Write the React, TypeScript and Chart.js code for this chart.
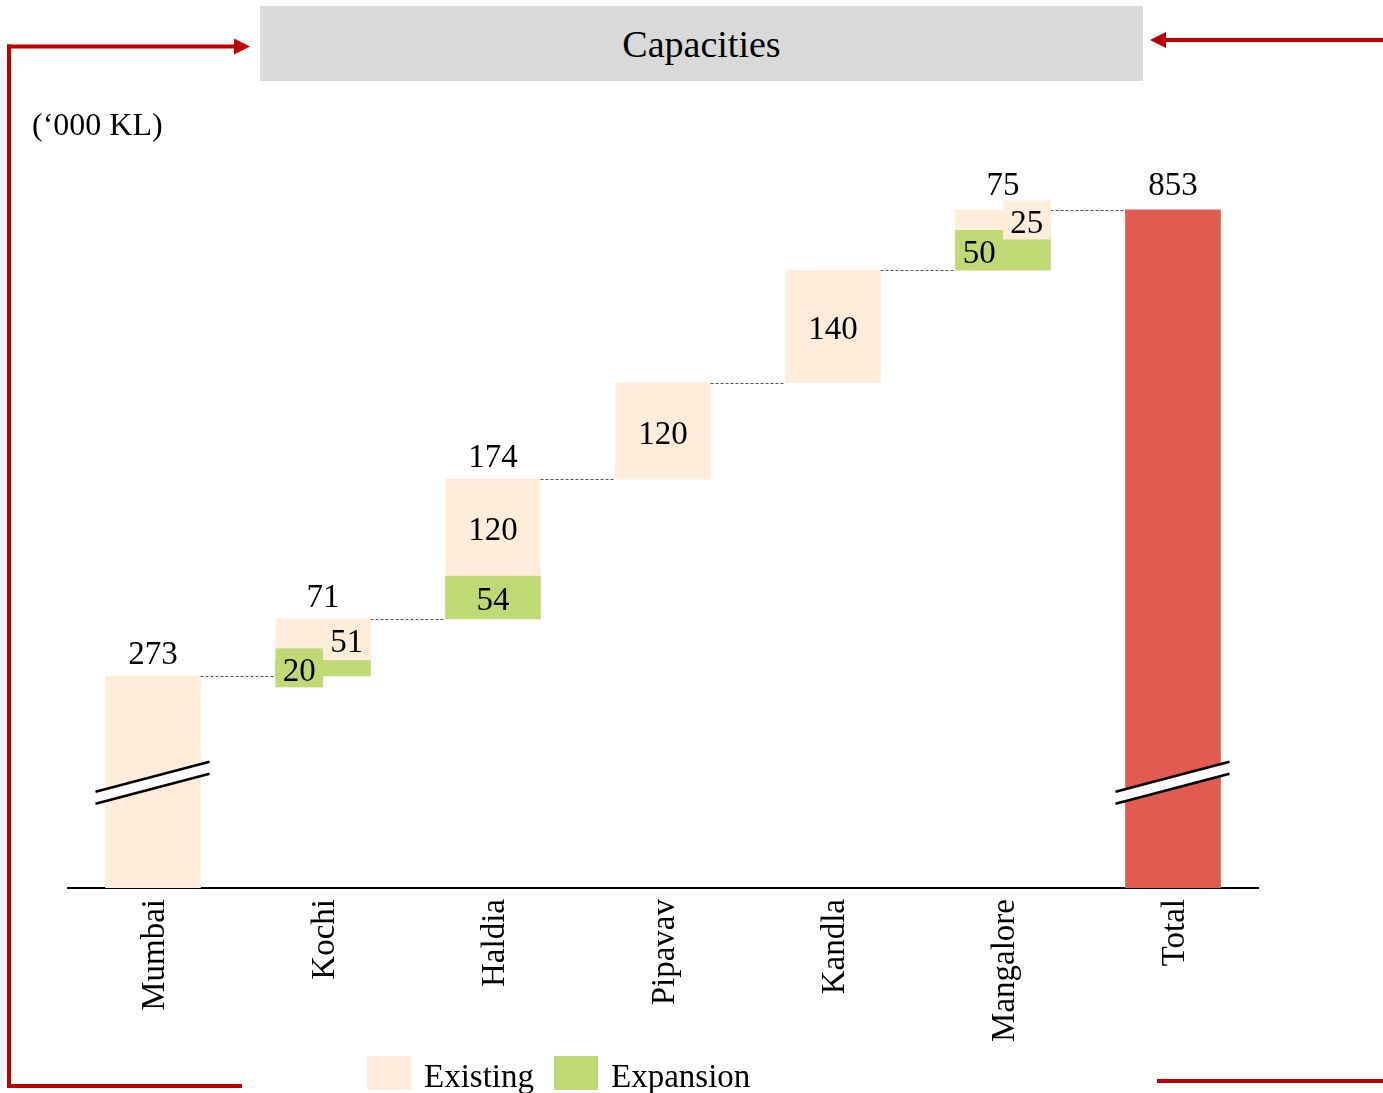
import React, { useEffect, useRef } from "react";
import { Chart, registerables } from "chart.js";
Chart.register(...registerables);

const categories = ["Mumbai", "Kochi", "Haldia", "Pipavav", "Kandla", "Mangalore", "Total"];
const existing = [273, 51, 120, 120, 140, 25, 0];
const expansion = [0, 20, 54, 0, 0, 50, 0];
const totalValue = 853;
const topLabels = ["273", "71", "174", "", "", "75", "853"];
const existingLabelSide = ["none", "right", "center", "center", "center", "right", "none"];
const expansionLabelSide = ["none", "left", "center", "none", "none", "left", "none"];
const breakValue = 140;

const COL_EXIST = "#FDEDDA";
const COL_EXP = "#BFD975";
const COL_TOTAL = "#E15B50";
const FONT = "'Liberation Serif', 'Times New Roman', serif";

export default function App() {
  const ref = useRef<HTMLCanvasElement | null>(null);

  useEffect(() => {
    document.body.style.margin = "0";
    document.body.style.overflow = "hidden";
    const n = categories.length;
    const starts: number[] = [];
    let acc = 0;
    for (let i = 0; i < n - 1; i++) {
      starts.push(acc);
      acc += existing[i] + expansion[i];
    }
    starts.push(0);
    const expData = categories.map((_, i) =>
      i < n - 1 && expansion[i] > 0 ? [starts[i], starts[i] + expansion[i]] : null
    );
    const exData = categories.map((_, i) =>
      i < n - 1 && existing[i] > 0
        ? [starts[i] + expansion[i], starts[i] + expansion[i] + existing[i]]
        : null
    );
    const totData = categories.map((_, i) => (i === n - 1 ? [0, totalValue] : null));

    const overlay = {
      id: "overlay",
      afterDatasetsDraw(chart: any) {
        const ctx = chart.ctx;
        const ys = chart.scales.y;
        const bars = categories.map((_, i) => {
          const m = i === n - 1 ? chart.getDatasetMeta(2) : chart.getDatasetMeta(exData[i] ? 0 : 1);
          return m.data[i];
        });
        const ends = categories.map((_, i) =>
          i === n - 1 ? totalValue : starts[i] + existing[i] + expansion[i]
        );
        ctx.save();
        // connectors
        ctx.strokeStyle = "#555";
        ctx.lineWidth = 1;
        ctx.setLineDash([3, 2]);
        for (let i = 0; i < n - 1; i++) {
          const a = bars[i];
          const b = bars[i + 1];
          const yy = Math.round(ys.getPixelForValue(ends[i])) + 0.5;
          ctx.beginPath();
          ctx.moveTo(a.x + a.width / 2, yy);
          ctx.lineTo(b.x - b.width / 2, yy);
          ctx.stroke();
        }
        ctx.setLineDash([]);
        // breaks
        [0, n - 1].forEach((i) => {
          const b = bars[i];
          const l = b.x - b.width / 2 - 10;
          const r = b.x + b.width / 2 + 9;
          const mid = ys.getPixelForValue(breakValue);
          ctx.fillStyle = "#fff";
          ctx.beginPath();
          ctx.moveTo(l, mid + 9);
          ctx.lineTo(r, mid - 21);
          ctx.lineTo(r, mid - 9);
          ctx.lineTo(l, mid + 21);
          ctx.closePath();
          ctx.fill();
          ctx.strokeStyle = "#000";
          ctx.lineWidth = 2.5;
          ctx.beginPath();
          ctx.moveTo(l, mid + 9);
          ctx.lineTo(r, mid - 21);
          ctx.moveTo(l, mid + 21);
          ctx.lineTo(r, mid - 9);
          ctx.stroke();
        });
        // inner labels
        ctx.font = `33px ${FONT}`;
        ctx.textAlign = "center";
        ctx.textBaseline = "alphabetic";
        const drawSeg = (i: number, lo: number, hi: number, side: string, val: number, col: string) => {
          if (side === "none") return;
          const b = bars[i];
          const yc = (ys.getPixelForValue(lo) + ys.getPixelForValue(hi)) / 2;
          let cx = b.x;
          if (side !== "center") {
            const segH = Math.abs(ys.getPixelForValue(lo) - ys.getPixelForValue(hi));
            const h = Math.max(segH, 39);
            const x0 = side === "left" ? b.x - b.width / 2 : b.x;
            const w = b.width / 2;
            ctx.fillStyle = col;
            ctx.fillRect(x0, yc - h / 2, w, h);
            cx = x0 + w / 2;
          }
          ctx.fillStyle = "#000";
          ctx.fillText(String(val), cx, yc + 13);
        };
        for (let i = 0; i < n - 1; i++) {
          if (expansion[i] > 0)
            drawSeg(i, starts[i], starts[i] + expansion[i], expansionLabelSide[i], expansion[i], COL_EXP);
        }
        for (let i = 0; i < n - 1; i++) {
          if (existing[i] > 0)
            drawSeg(
              i,
              starts[i] + expansion[i],
              starts[i] + expansion[i] + existing[i],
              existingLabelSide[i],
              existing[i],
              COL_EXIST
            );
        }
        // top labels
        ctx.fillStyle = "#000";
        for (let i = 0; i < n; i++) {
          if (!topLabels[i]) continue;
          const yTop = ys.getPixelForValue(ends[i]);
          ctx.fillText(topLabels[i], bars[i].x, yTop - (i >= n - 2 ? 15 : 12));
        }
        ctx.restore();
      },
    };

    const chart = new Chart(ref.current as HTMLCanvasElement, {
      type: "bar",
      data: {
        labels: categories,
        datasets: [
          { label: "Existing", data: exData as any, backgroundColor: COL_EXIST, barThickness: 95 },
          { label: "Expansion", data: expData as any, backgroundColor: COL_EXP, barThickness: 95 },
          { label: "Total", data: totData as any, backgroundColor: COL_TOTAL, barThickness: 95 },
        ],
      },
      options: {
        responsive: false,
        animation: false,
        layout: { padding: { left: 68, right: 125, top: 150, bottom: 0 } },
        plugins: { legend: { display: false }, tooltip: { enabled: false } },
        scales: {
          x: {
            stacked: true,
            grid: { display: false, drawTicks: false },
            border: { display: true, color: "#000", width: 2 },
            ticks: {
              autoSkip: false,
              maxRotation: 90,
              minRotation: 90,
              padding: 11,
              labelOffset: 2,
              color: "#000",
              font: { family: FONT, size: 33 },
            },
            afterFit: (s: any) => {
              s.height = 205;
            },
          },
          y: {
            display: false,
            stacked: false,
            min: 9,
            max: 927.6,
          },
        },
      },
      plugins: [overlay],
    });
    return () => chart.destroy();
  }, []);

  const abs = (o: any) => ({ position: "absolute" as const, ...o });

  return (
    <div style={abs({ left: 0, top: 0, width: 1383, height: 1093, overflow: "hidden", background: "#fff", fontFamily: FONT })}>
      <canvas ref={ref} width={1383} height={1093} style={abs({ left: 0, top: 0 })} />
      <div
        style={abs({
          left: 260,
          top: 6,
          width: 883,
          height: 75,
          background: "#D9D9D9",
          display: "flex",
          alignItems: "center",
          justifyContent: "center",
          fontSize: 38,
          color: "#000",
        })}
      >
        Capacities
      </div>
      <div style={abs({ left: 32, top: 108, fontSize: 32, lineHeight: "33px", color: "#000", whiteSpace: "nowrap" })}>
        (‘000 KL)
      </div>
      <svg width={1383} height={1093} style={abs({ left: 0, top: 0, pointerEvents: "none" })}>
        <g stroke="#C00000" strokeWidth={4} fill="none">
          <line x1={9} y1={44.5} x2={9} y2={1088} />
          <line x1={7} y1={46.5} x2={237} y2={46.5} />
          <line x1={7} y1={1086} x2={242} y2={1086} />
          <line x1={1165} y1={40} x2={1383} y2={40} />
          <line x1={1157} y1={1081} x2={1383} y2={1081} />
        </g>
        <polygon points="234,38.5 250,46.5 234,54.5" fill="#C00000" />
        <polygon points="1166,32 1150,40 1166,48" fill="#C00000" />
      </svg>
      <div style={abs({ left: 367, top: 1056, width: 44, height: 34, background: COL_EXIST })} />
      <div style={abs({ left: 424, top: 1060, fontSize: 33, lineHeight: "33px", color: "#000", whiteSpace: "nowrap" })}>
        Existing
      </div>
      <div style={abs({ left: 554, top: 1056, width: 44, height: 34, background: COL_EXP })} />
      <div style={abs({ left: 611, top: 1060, fontSize: 33, lineHeight: "33px", color: "#000", whiteSpace: "nowrap" })}>
        Expansion
      </div>
    </div>
  );
}
